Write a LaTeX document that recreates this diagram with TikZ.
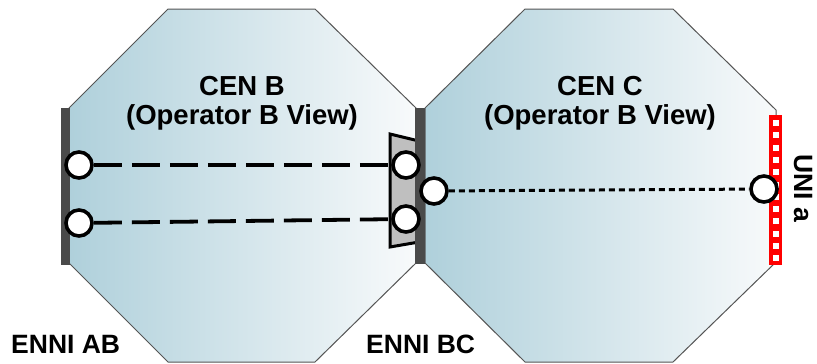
\documentclass[tikz,border=0pt]{standalone}
\usepackage{fontspec}
\setmainfont{Liberation Sans}
\definecolor{cenleft}{HTML}{AFD0DB}
\definecolor{cenright}{HTML}{F8FAFB}
\definecolor{bardark}{HTML}{4A4A4A}
\definecolor{edgegray}{HTML}{555555}
\definecolor{unired}{HTML}{FF0000}
\tikzset{
  cen/.style={draw=edgegray, line width=1pt, left color=cenleft, right color=cenright},
  ennibar/.style={fill=bardark, draw=none},
  port/.style={circle, draw=black, fill=white, line width=3.6pt, minimum size=26pt, inner sep=0pt},
  longdash/.style={line width=3.8pt, dash pattern=on 28pt off 10pt},
  shortdash/.style={line width=3pt, dash pattern=on 6pt off 4pt},
  lbl/.style={font=\bfseries\fontsize{27.5}{29}\selectfont, align=center, inner sep=0pt},
  lblsmall/.style={font=\bfseries\fontsize{26.5}{28}\selectfont, inner sep=0pt},
}
\begin{document}
\begin{tikzpicture}[x=1pt, y=-1pt]
\useasboundingbox (0,0) rectangle (817,364);
% octagons
\path[cen] (168,9) -- (315,9) -- (416,108) -- (416,263) -- (315,362) -- (168,362) -- (69,263) -- (69,108) -- cycle;
\path[cen] (525,9) -- (673,9) -- (776,110) -- (776,262) -- (673,362) -- (525,362) -- (425,263) -- (425,108) -- cycle;
% texts
\node[lbl] (cenb) at (242,103) {CEN B\\(Operator B View)};
\node[lbl] (cenc) at (600,103) {CEN C\\(Operator B View)};
\node[lblsmall, anchor=base west] (enniab) at (11,353) {ENNI AB};
\node[lblsmall, anchor=base west] (ennibc) at (366,353) {ENNI BC};
\node[lblsmall, rotate=-90] (unia) at (803,188) {UNI a};
% trapezoid
\draw[fill=black!25, line width=3pt, line join=miter] (390,134) -- (419,141) -- (419,242) -- (390,247) -- cycle;
% ENNI bars
\fill[ennibar] (61,108) rectangle (70,265);
\fill[ennibar] (415,108) rectangle (425,264);
% UNI bar
\fill[unired] (769,115) rectangle (782,265);
\foreach \i in {0,...,11} {
  \fill[white] (772.5,{120+12.3*\i}) rectangle (778.5,{126+12.3*\i});
}
% ports
\node[port] (ab1) at (79,165) {};
\node[port] (ab2) at (79,223) {};
\node[port] (bc1) at (406,165) {};
\node[port] (bc2) at (406,219) {};
\node[port] (bc3) at (434,191) {};
\node[port] (uni) at (764,189) {};
% connections
\draw[longdash] (ab1) -- (bc1);
\draw[longdash] (ab2) -- (bc2);
\draw[shortdash] (bc3) -- (uni);
\end{tikzpicture}
\end{document}
